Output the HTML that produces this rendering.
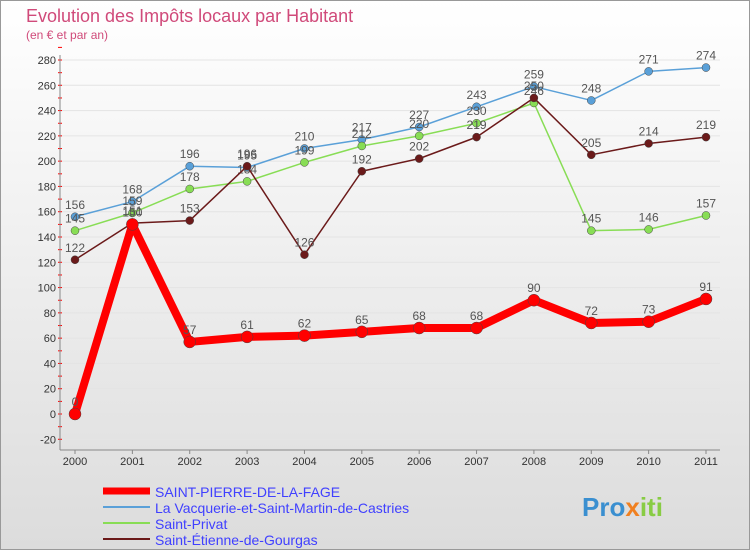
<!DOCTYPE html>
<html><head><meta charset="utf-8"><style>
body{margin:0;width:750px;height:550px;overflow:hidden;font-family:"Liberation Sans",sans-serif}
</style></head><body>
<svg width="750" height="550" xmlns="http://www.w3.org/2000/svg">
<defs><linearGradient id="bg" x1="0" y1="0" x2="0" y2="1"><stop offset="0" stop-color="#ffffff"/><stop offset="1" stop-color="#dcdcdc"/></linearGradient></defs>
<rect x="0.5" y="0.5" width="749" height="549" fill="url(#bg)" stroke="#999"/>
<text x="26" y="22" font-size="18" fill="#d04a7a">Evolution des Impôts locaux par Habitant</text>
<text x="26" y="39" font-size="12" fill="#d04a7a">(en € et par an)</text>
<g id="axes"></g><g id="series"></g>
<g font-size="14">
<line x1="103" y1="491" x2="150" y2="491" stroke="#ff0000" stroke-width="7"/>
<text x="155" y="497" fill="#4040ff">SAINT-PIERRE-DE-LA-FAGE</text>
<line x1="103" y1="507" x2="150" y2="507" stroke="#5aa0d8" stroke-width="2"/>
<text x="155" y="513" fill="#4040ff">La Vacquerie-et-Saint-Martin-de-Castries</text>
<line x1="103" y1="523" x2="150" y2="523" stroke="#88dd55" stroke-width="2"/>
<text x="155" y="529" fill="#4040ff">Saint-Privat</text>
<line x1="103" y1="539" x2="150" y2="539" stroke="#6b1a1a" stroke-width="2"/>
<text x="155" y="545" fill="#4040ff">Saint-Étienne-de-Gourgas</text>
</g>
<text x="582" y="516" font-size="26" font-weight="bold" fill="#3a8fd0">Pro<tspan fill="#f08020">x</tspan><tspan fill="#88cc44">iti</tspan></text>
</svg>
<script>
const years=["2000","2001","2002","2003","2004","2005","2006","2007","2008","2009","2010","2011"];
const yTicks=[-20,0,20,40,60,80,100,120,140,160,180,200,220,240,260,280];
const sPierre=[0,150,57,61,62,65,68,68,90,72,73,91];
const vacquerie=[156,168,196,195,210,217,227,243,259,248,271,274];
const privat=[145,159,178,184,199,212,220,230,246,145,146,157];
const etienne=[122,151,153,196,126,192,202,219,250,205,214,219];
const NS="http://www.w3.org/2000/svg";
const X=i=>75+i*(706-75)/11;
const Y=v=>414-v*(354/280);
function mk(t,a,p){const e=document.createElementNS(NS,t);for(const k in a)e.setAttribute(k,a[k]);p.appendChild(e);return e;}
const ax=document.getElementById('axes');
yTicks.forEach(v=>{
 const g=mk('line',{x1:60,x2:720,y1:Y(v),y2:Y(v),stroke:'#e4e4e4','stroke-width':1},ax);
 
 
 const t=mk('text',{x:56,y:Y(v)+4,'font-size':11,fill:'#333','text-anchor':'end'},ax);
 t.textContent=v;
 
 
 mk('line',{x1:58,x2:62,y1:Y(v)-12.6,y2:Y(v)-12.6,stroke:'#f00'},ax);
 mk('line',{x1:58,x2:62,y1:Y(v),y2:Y(v),stroke:'#f00'},ax);
});
years.forEach((y,i)=>{
 const t=mk('text',{x:X(i),y:465,'font-size':11,fill:'#333','text-anchor':'middle'},ax);
 t.textContent=y;
 
 
 mk('line',{x1:X(i),x2:X(i),y1:450,y2:454,stroke:'#888'},ax);
});
mk('line',{x1:60,x2:60,y1:55,y2:450,stroke:'#888'},ax);
mk('line',{x1:60,x2:720,y1:450,y2:450,stroke:'#888'},ax);
const sg=document.getElementById('series');
function draw(vals,color,w,r,name,labelColor){
 const g=mk('g',{},sg);
 
 
 mk('polyline',{points:vals.map((v,i)=>X(i)+','+Y(v)).join(' '),fill:'none',stroke:color,'stroke-width':w,'stroke-linejoin':'round'},g);
 vals.forEach((v,i)=>{
  const c=mk('circle',{cx:X(i),cy:Y(v),r:r,fill:color,stroke:'#444','stroke-width':0.5},g);
  
  
  const t=mk('text',{x:X(i),y:Y(v)-8,'font-size':12,fill:'#555','text-anchor':'middle'},g);
  t.textContent=v;
  
  
 });
}
draw(vacquerie,'#5aa0d8',1.5,4,'series-vacquerie');
draw(privat,'#88dd55',1.5,4,'series-saint-privat');
draw(etienne,'#6b1a1a',1.5,4,'series-saint-etienne');
draw(sPierre,'#ff0000',8,6,'series-saint-pierre');
</script>
</body></html>
